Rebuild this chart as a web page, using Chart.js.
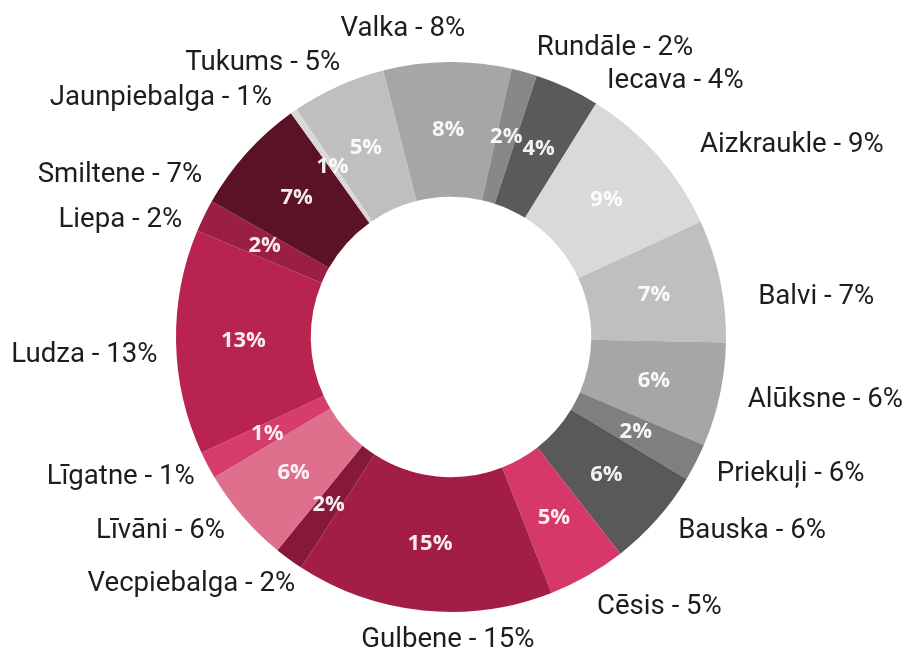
<!DOCTYPE html>
<html>
<head>
<meta charset="utf-8">
<title>Novadi</title>
<script src="https://cdn.jsdelivr.net/npm/chart.js@4.4.1/dist/chart.umd.min.js"></script>
<style>
    html, body { margin: 0; padding: 0; background: #ffffff; }
    #wrap { width: 909px; height: 650px; }
</style>
</head>
<body>
<div id="wrap"><canvas id="donut"></canvas></div>
<script>
// slices, clockwise from Valka
const towns = ['Valka', 'Rundāle', 'Iecava', 'Aizkraukle', 'Balvi', 'Alūksne', 'Priekuļi', 'Bauska', 'Cēsis',
    'Gulbene', 'Vecpiebalga', 'Līvāni', 'Līgatne', 'Ludza', 'Liepa', 'Smiltene', 'Jaunpiebalga', 'Tukums'];
const shares = [7.5, 1.5, 3.8, 9.25, 7.2, 6.1, 2.2, 5.8, 4.6, 15.1, 1.7, 5.6, 1.6, 13.2, 1.9, 6.9, 0.4, 5.5];
const insideLabels = ['8%', '2%', '4%', '9%', '7%', '6%', '2%', '6%', '5%', '15%', '2%', '6%', '1%', '13%', '2%', '7%', '1%', '5%'];
const outsideLabels = ['8%', '2%', '4%', '9%', '7%', '6%', '6%', '6%', '5%', '15%', '2%', '6%', '1%', '13%', '2%', '7%', '1%', '5%'];

const sliceColors = ['#a6a6a6', '#888888', '#5a5a5a', '#d9d9d9', '#bfbfbf', '#a6a6a6', '#7f7f7f', '#595959', '#d6386a',
    '#a21e45', '#86193a', '#de6f8d', '#d63c6c', '#b8244f', '#9a1f43', '#5a1224', '#d9d9d9', '#bfbfbf'];

// where each outer label sits: [degrees from 12 o'clock, gap past the ring in px]
const labelSpots = [[351.2, 39], [16.4, 29], [31.1, 27], [52, 41], [82.2, 35], [101.6, 28], [116.9, 23], [130.1, 22], [151.4, 30],
    [180.6, 26], [212.5, 15], [229.8, 21], [241.7, 16], [266.9, 19], [293.9, 19], [303.4, 23], [323.5, 26], [338.2, 23]];

const sliceLabels = {
    id: 'sliceLabels',
    afterDatasetsDraw(chart) {
        const ctx = chart.ctx;
        const arcs = chart.getDatasetMeta(0).data;
        ctx.save();
        arcs.forEach(function (arc, i) {
            // percent inside the ring
            const p = arc.tooltipPosition();
            ctx.font = 'bold 22px "Open Sans"';
            ctx.fillStyle = 'rgba(255,255,255,0.92)';
            ctx.textAlign = 'center';
            ctx.textBaseline = 'middle';
            ctx.fillText(insideLabels[i], p.x, p.y);

            // name outside
            const a = labelSpots[i][0] * Math.PI / 180;
            const r = arc.outerRadius + labelSpots[i][1];
            const x = arc.x + Math.sin(a) * r;
            const y = arc.y - Math.cos(a) * r;
            const s = Math.sin(a);
            ctx.textAlign = s > 0.2 ? 'left' : (s < -0.2 ? 'right' : 'center');
            ctx.textBaseline = 'alphabetic';
            ctx.font = '27.6px Roboto';
            ctx.fillStyle = '#1d1d1d';
            ctx.fillText(towns[i] + ' - ' + outsideLabels[i], x, y + 9.5);
        });
        ctx.restore();
    }
};

function drawChart() {
    new Chart('donut', {
        type: 'doughnut',
        data: {
            labels: towns,
            datasets: [{
                data: shares,
                backgroundColor: sliceColors,
                borderWidth: 0
            }]
        },
        options: {
            responsive: true,
            maintainAspectRatio: false,
            animation: false,
            rotation: -14.3,
            cutout: '51%',
            layout: {
                padding: { top: 62, bottom: 38, left: 0, right: 7 }
            },
            plugins: {
                legend: { display: false },
                tooltip: { enabled: false }
            }
        },
        plugins: [sliceLabels]
    });
}

Promise.all([
    document.fonts.load('27.6px Roboto'),
    document.fonts.load('bold 22px "Open Sans"')
]).then(drawChart, drawChart);
</script>
</body>
</html>
